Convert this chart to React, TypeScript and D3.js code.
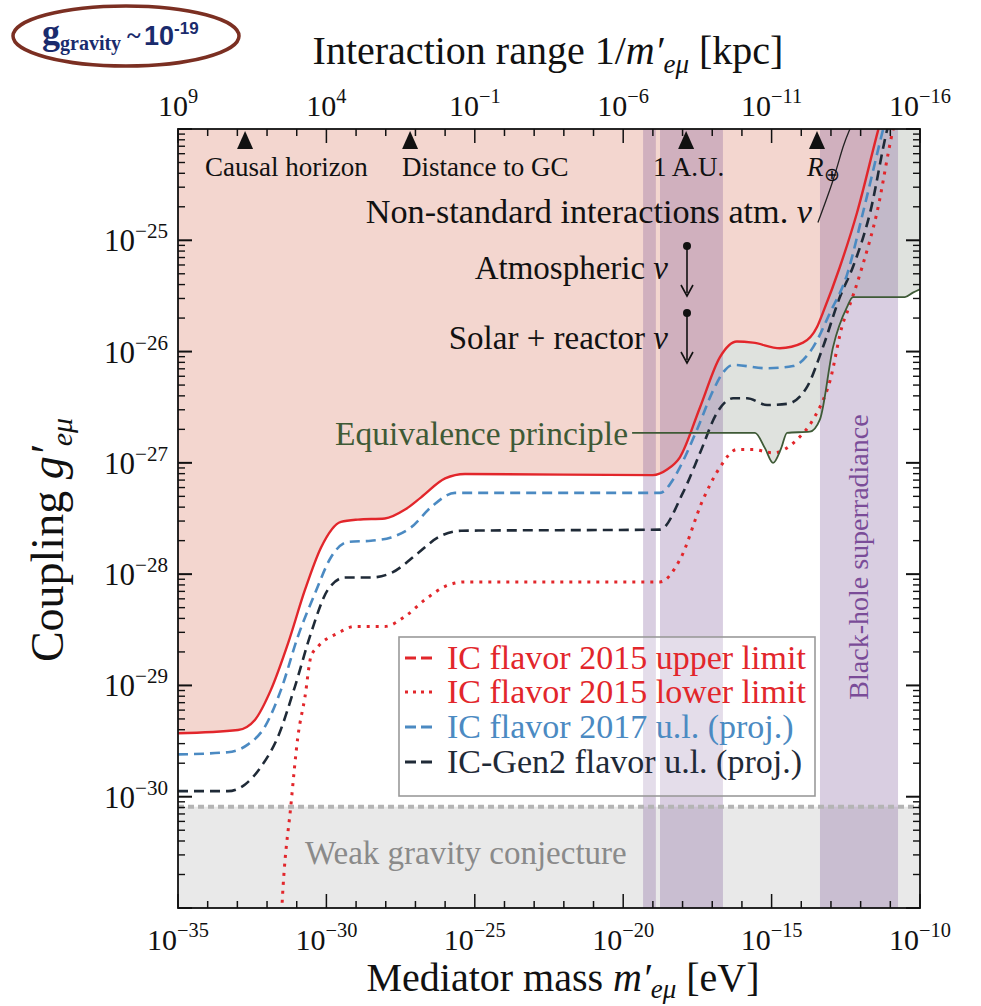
import React from "react";
import * as d3 from "d3";

const W = 981;
const H = 1006;
const PL = 178, PR = 920, PT = 129, PB = 908;

// axis ticks (exponents)
const bottomTickExps = [-35, -30, -25, -20, -15, -10];
const topTickExps = [9, 4, -1, -6, -11, -16];
const leftTickExps = [-30, -29, -28, -27, -26, -25];

// curves as log10(m / eV), log10(g)
const upperLogM = [-35.0, -32.98, -32.41, -31.87, -31.29, -30.72, -30.18, -29.51, -28.94, -28.03, -27.35, -26.81, -26.0, -25.33, -19.0, -18.52, -18.09, -17.41, -16.74, -16.17, -15.63, -14.72, -13.94, -13.47, -13.27, -12.7, -12.12, -11.41, -11.2];
const upperLogG = [-29.43, -29.4, -29.31, -29.04, -28.62, -28.14, -27.76, -27.53, -27.51, -27.5, -27.42, -27.31, -27.14, -27.1, -27.11, -27.06, -26.95, -26.5, -26.05, -25.91, -25.92, -25.97, -25.92, -25.78, -25.65, -25.24, -24.75, -24.01, -23.8];

const lowerLogM = [-31.6, -31.5, -31.19, -30.96, -30.72, -30.52, -30.28, -29.61, -29.04, -28.03, -27.35, -26.68, -26.0, -25.33, -18.76, -18.09, -17.31, -16.74, -16.17, -15.63, -14.95, -14.14, -13.6, -13.03, -12.59, -12.46, -11.95, -11.45, -10.91, -10.7];
const lowerLogG = [-31.6, -31.0, -30.06, -29.46, -29.1, -28.74, -28.65, -28.53, -28.47, -28.47, -28.38, -28.23, -28.11, -28.07, -28.07, -27.87, -27.33, -27.04, -26.88, -26.88, -26.91, -26.79, -26.61, -26.26, -25.74, -25.65, -25.24, -24.75, -24.01, -23.8];

const ic2017LogM = [-35.0, -33.32, -32.64, -32.07, -31.53, -30.96, -30.38, -29.85, -29.27, -28.5, -27.82, -27.15, -26.48, -25.67, -18.76, -18.32, -18.09, -17.51, -16.97, -16.64, -16.3, -15.15, -14.28, -13.6, -13.03, -12.46, -11.92, -11.25, -11.05];
const ic2017LogG = [-29.62, -29.6, -29.53, -29.37, -29.04, -28.56, -28.17, -27.85, -27.71, -27.7, -27.67, -27.58, -27.4, -27.27, -27.27, -27.15, -27.04, -26.7, -26.35, -26.19, -26.12, -26.15, -26.13, -25.96, -25.65, -25.31, -24.75, -24.01, -23.8];

const gen2LogM = [-35.0, -33.32, -32.74, -32.2, -31.63, -31.06, -30.52, -29.95, -29.37, -28.5, -27.82, -26.91, -26.24, -25.46, -18.76, -17.99, -17.41, -16.84, -16.3, -15.83, -15.15, -14.48, -13.81, -13.27, -12.7, -12.26, -11.68, -11.11, -10.9];
const gen2LogG = [-29.95, -29.95, -29.89, -29.73, -29.46, -29.01, -28.53, -28.14, -28.03, -28.03, -27.99, -27.81, -27.67, -27.61, -27.6, -27.27, -26.91, -26.55, -26.42, -26.42, -26.48, -26.47, -26.32, -25.96, -25.51, -25.24, -24.75, -24.01, -23.8];

const epLogM = [-35.0, -19.7, -15.56, -15.22, -14.95, -14.68, -14.48, -13.71, -13.37, -12.93, -12.46, -12.26, -10.51, -10.24, -10.0];
const epLogG = [-26.73, -26.73, -26.73, -26.87, -27.0, -26.87, -26.73, -26.72, -26.61, -25.96, -25.6, -25.51, -25.51, -25.47, -25.44];
const epLineStart = -19.7;

const nsiLogM = [-13.44, -12.93, -12.59, -12.36, -12.3];
const nsiLogG = [-24.84, -24.46, -24.16, -24.0, -23.95];

const wgcLogG = -30.09;

// purple bands [from, to] in log10 m
const bandFrom = [-19.33, -18.76, -13.37];
const bandTo = [-18.9, -16.64, -10.74];

// markers on top axis (log10 m)
const markerLogM = [-32.74, -27.18, -17.88, -13.47];

const legendLabels = [
  "IC flavor 2015 upper limit",
  "IC flavor 2015 lower limit",
  "IC flavor 2017 u.l. (proj.)",
  "IC-Gen2 flavor u.l. (proj.)",
];
const RED = "#e2262b";
const BLUE = "#4b8ac2";
const DARK = "#1f2a37";
const GREEN = "#3e5a36";
const legendColors = [RED, RED, BLUE, DARK];
const legendDash = ["11,5", "3,5", "11,5", "11,5"];

const SERIF = "'Liberation Serif', 'Times New Roman', serif";

const x = d3.scaleLog().domain([1e-35, 1e-10]).range([PL, PR]);
const y = d3.scaleLog().domain([1e-31, 1e-24]).range([PB, PT]);
const xTop = d3.scaleLog().domain([1e9, 1e-16]).range([PL, PR]);

const zip = (a: number[], b: number[]) => a.map((v, i) => [v, b[i]] as [number, number]);
const lineGen = d3
  .line<[number, number]>()
  .x((d) => x(10 ** d[0]))
  .y((d) => y(10 ** d[1]))
  .curve(d3.curveMonotoneX);
const areaAbove = d3
  .area<[number, number]>()
  .x((d) => x(10 ** d[0]))
  .y0(PT - 5)
  .y1((d) => y(10 ** d[1]))
  .curve(d3.curveMonotoneX);

const sup = (e: number) => (e < 0 ? "\u2212" + Math.abs(e) : String(e));

function TickLabel({ px, py, exp, anchor, size = 30 }: any) {
  return (
    <text x={px} y={py} textAnchor={anchor} fontFamily={SERIF} fontSize={size} fill="#111">
      10
      <tspan fontSize={size * 0.68} dy={-size * 0.42}>
        {sup(exp)}
      </tspan>
    </text>
  );
}

export default function App() {
  const upper = zip(upperLogM, upperLogG);
  const lower = zip(lowerLogM, lowerLogG);
  const ic17 = zip(ic2017LogM, ic2017LogG);
  const gen2 = zip(gen2LogM, gen2LogG);
  const ep = zip(epLogM, epLogG);
  const epLine = ep.filter((d) => d[0] >= epLineStart);
  const nsi = zip(nsiLogM, nsiLogG);
  const yW = y(10 ** wgcLogG);

  const xMinor: number[] = d3.range(-35, -9);
  const yMinor: number[] = [];
  for (let e = -31; e < -24; e++) for (let k = 1; k <= 9; k++) yMinor.push(k * 10 ** e);
  yMinor.push(1e-24);

  const legendY = [658, 692, 727, 762];

  return (
    <svg width={W} height={H} style={{ position: "absolute", left: 0, top: 0, background: "#fff" }}>
      <defs>
        <clipPath id="plot">
          <rect x={PL} y={PT} width={PR - PL} height={PB - PT} />
        </clipPath>
      </defs>
      <rect x={0} y={0} width={W} height={H} fill="#fff" />
      <g clipPath="url(#plot)">
        {/* weak gravity region */}
        <rect x={PL} y={yW} width={PR - PL} height={PB - yW} fill="#e9e9e9" />
        {/* equivalence principle region */}
        <path d={areaAbove(ep) || ""} fill="#dfe2de" />
        {/* excluded by IC 2015 */}
        <path d={areaAbove(upper) || ""} fill="#f3d6cf" />
        {/* bands */}
        {bandFrom.map((b, i) => (
          <rect key={i} x={x(10 ** b)} y={PT} width={x(10 ** bandTo[i]) - x(10 ** b)} height={PB - PT} fill="rgb(118,78,148)" fillOpacity={0.28} />
        ))}
        <line x1={PL} x2={PR} y1={yW} y2={yW} stroke="#b4b4b4" strokeWidth={4} strokeDasharray="6,4" />
        <path d={d3.line<[number, number]>().x((d) => x(10 ** d[0])).y((d) => y(10 ** d[1])).curve(d3.curveNatural)(nsi) || ""} fill="none" stroke="#222" strokeWidth={1.3} />
        <path d={lineGen(gen2) || ""} fill="none" stroke={DARK} strokeWidth={2.6} strokeDasharray="10,6" />
        <path d={lineGen(ic17) || ""} fill="none" stroke={BLUE} strokeWidth={2.6} strokeDasharray="10,6" />
        <path d={lineGen(lower) || ""} fill="none" stroke={RED} strokeWidth={3} strokeDasharray="3,6" />
        <path d={lineGen(upper) || ""} fill="none" stroke={RED} strokeWidth={2.4} />
        <path d={lineGen(epLine) || ""} fill="none" stroke={GREEN} strokeWidth={1.8} />
      </g>

      {/* annotations */}
      <text x={812} y={223} textAnchor="end" fontFamily={SERIF} fontSize={34.2} fill="#111">
        Non-standard interactions atm. <tspan fontStyle="italic">ν</tspan>
      </text>
      <text x={668} y={279} textAnchor="end" fontFamily={SERIF} fontSize={33} fill="#111">
        Atmospheric <tspan fontStyle="italic">ν</tspan>
      </text>
      <text x={668} y={349} textAnchor="end" fontFamily={SERIF} fontSize={33} fill="#111">
        Solar + reactor <tspan fontStyle="italic">ν</tspan>
      </text>
      {[246, 313].map((yy, i) => (
        <g key={i}>
          <circle cx={687} cy={yy} r={4} fill="#111" />
          <line x1={687} x2={687} y1={yy} y2={yy + 47} stroke="#111" strokeWidth={1.6} />
          <path d={`M${681},${yy + 39} L${687},${yy + 50} L${693},${yy + 39}`} fill="none" stroke="#111" strokeWidth={1.6} />
        </g>
      ))}
      <text x={628} y={445} textAnchor="end" fontFamily={SERIF} fontSize={33.5} fill={GREEN}>
        Equivalence principle
      </text>
      <text x={305} y={864} fontFamily={SERIF} fontSize={33} fill="#8a8a8a">
        Weak gravity conjecture
      </text>
      <text transform="translate(868,557) rotate(-90)" textAnchor="middle" fontFamily={SERIF} fontSize={28} fill="#7a4c98">
        Black-hole superradiance
      </text>

      {/* markers */}
      {markerLogM.map((m, i) => (
        <path key={i} d={`M${x(10 ** m) - 8},${149} L${x(10 ** m) + 8},${149} L${x(10 ** m)},${131} Z`} fill="#111" />
      ))}
      <text x={205} y={176} fontFamily={SERIF} fontSize={27} fill="#111">Causal horizon</text>
      <text x={402} y={176} fontFamily={SERIF} fontSize={27} fill="#111">Distance to GC</text>
      <text x={653} y={176} fontFamily={SERIF} fontSize={27} fill="#111">1 A.U.</text>
      <text x={807} y={176} fontFamily={SERIF} fontSize={27} fill="#111">
        <tspan fontStyle="italic">R</tspan>
        <tspan fontSize={19} dy={5}>⊕</tspan>
      </text>

      {/* legend */}
      <rect x={399} y={637} width={416} height={159} fill="#fff" fillOpacity={0.3} stroke="#9a9a9a" strokeWidth={1.6} />
      {legendLabels.map((lab, i) => (
        <g key={i}>
          <line x1={405} x2={437} y1={legendY[i]} y2={legendY[i]} stroke={legendColors[i]} strokeWidth={i === 1 ? 3 : 2.8} strokeDasharray={legendDash[i]} />
          <text x={447} y={legendY[i] + 11} fontFamily={SERIF} fontSize={34} fill={legendColors[i]}>
            {lab}
          </text>
        </g>
      ))}

      {/* axes frame */}
      <rect x={PL} y={PT} width={PR - PL} height={PB - PT} fill="none" stroke="#111" strokeWidth={1.8} />
      {xMinor.map((e) => {
        const len = e % 5 === 0 ? 14 : 7;
        const px = x(10 ** e);
        return (
          <g key={e}>
            <line x1={px} x2={px} y1={PB} y2={PB - len} stroke="#111" strokeWidth={1.5} />
            <line x1={px} x2={px} y1={PT} y2={PT + len} stroke="#111" strokeWidth={1.5} />
          </g>
        );
      })}
      {yMinor.map((v, i) => {
        const py = y(v);
        const major = Math.abs(Math.log10(v) - Math.round(Math.log10(v))) < 1e-6;
        const len = major ? 14 : 7;
        return (
          <g key={i}>
            <line x1={PL} x2={PL + len} y1={py} y2={py} stroke="#111" strokeWidth={major ? 2 : 1.4} />
            <line x1={PR} x2={PR - len} y1={py} y2={py} stroke="#111" strokeWidth={major ? 2 : 1.4} />
          </g>
        );
      })}
      {bottomTickExps.map((e) => (
        <TickLabel key={e} px={x(10 ** e)} py={950} exp={e} anchor="middle" />
      ))}
      {topTickExps.map((e) => (
        <TickLabel key={e} px={xTop(10 ** e)} py={116} exp={e} anchor="middle" />
      ))}
      {leftTickExps.map((e) => (
        <TickLabel key={e} px={168} py={y(10 ** e) + 11} exp={e} anchor="end" size={31} />
      ))}

      {/* titles */}
      <text x={563} y={991} textAnchor="middle" fontFamily={SERIF} fontSize={40} fill="#111">
        Mediator mass <tspan fontStyle="italic">m′</tspan>
        <tspan fontStyle="italic" fontSize={27} dy={7}>eμ</tspan>
        <tspan dy={-7}> [eV]</tspan>
      </text>
      <text x={548} y={64} textAnchor="middle" fontFamily={SERIF} fontSize={40} fill="#111">
        Interaction range 1/<tspan fontStyle="italic">m′</tspan>
        <tspan fontStyle="italic" fontSize={27} dy={9}>eμ</tspan>
        <tspan dy={-9}> [kpc]</tspan>
      </text>
      <text transform="translate(63,540) rotate(-90)" textAnchor="middle" fontFamily={SERIF} fontSize={46} fill="#111">
        Coupling <tspan fontStyle="italic">g′</tspan>
        <tspan fontStyle="italic" fontSize={30} dy={9}>eμ</tspan>
      </text>

      {/* badge */}
      <ellipse cx={126} cy={36} rx={113} ry={30} fill="#fff" stroke="#7b2f22" strokeWidth={3.5} />
      <text x={42} y={44} fontFamily={SERIF} fontSize={36} fontWeight="bold" fill="#1a2b6d">
        g<tspan fontSize={20} dy={6}>gravity</tspan>
        <tspan fontSize={26} dy={-6} dx={6}>~</tspan>
      </text>
      <text x={144} y={45} fontFamily="'Liberation Sans', Arial, sans-serif" fontSize={27} fontWeight="bold" fill="#1a2b6d">
        10<tspan fontSize={17} dy={-11}>-19</tspan>
      </text>
    </svg>
  );
}
